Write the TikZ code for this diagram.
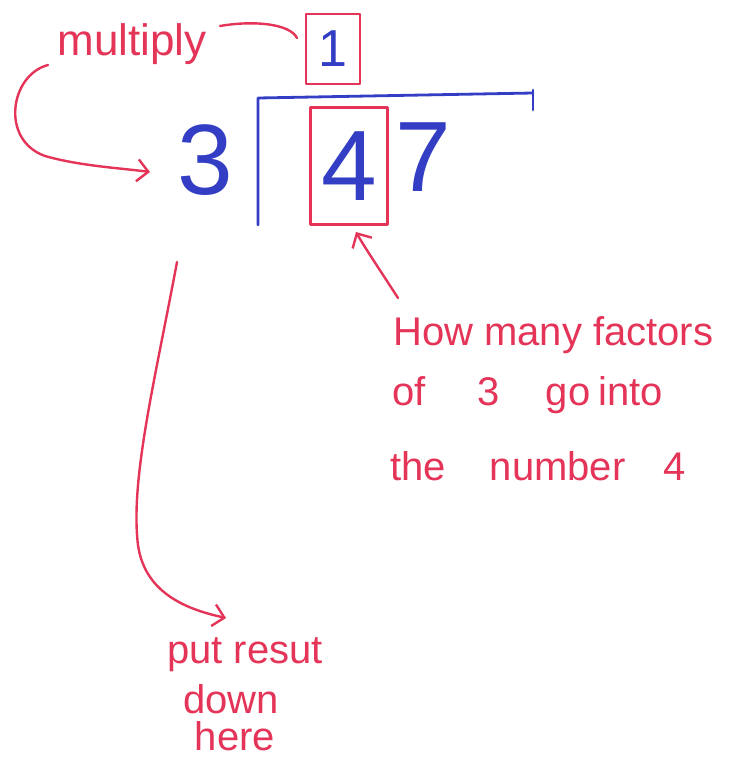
\documentclass[tikz,border=0pt]{standalone}
\usepackage{fontspec}
\setmainfont{Liberation Sans}
\usetikzlibrary{arrows.meta}
\definecolor{pen}{RGB}{228,52,88}
\definecolor{ink}{RGB}{52,62,196}
\begin{document}
\begin{tikzpicture}[x=1pt,y=-1pt, line cap=round, line join=round,
  redline/.style={draw=pen,line width=2.4pt},
  blueline/.style={draw=ink,line width=2.8pt},
  redtext/.style={text=pen,font=\fontsize{40}{46}\selectfont,inner sep=0pt},
  bigdigit/.style={text=ink,font=\fontsize{100}{100}\selectfont,inner sep=0pt},
  redbox/.style={draw=pen,line width=2.4pt},
  tip/.style={-{Straight Barb[length=11pt,width=22pt,line width=2.4pt]}}]
\useasboundingbox (0,0) rectangle (735,769);
\fill[white] (0,0) rectangle (735,769);

% nodes
\node[redtext,font=\fontsize{44}{44}\selectfont,anchor=base] (mult) at (132,55) {multiply};
\node[redbox,minimum width=54pt,minimum height=70pt,inner sep=0pt,
      text=ink,font=\fontsize{52}{52}\selectfont] (one) at (333,49) {1};
\node[bigdigit] (three) at (205,160) {3};
\node[redbox,bigdigit,minimum width=77pt,minimum height=117pt] (four) at (349,166) {4};
\node[bigdigit] (seven) at (423,157) {7};

\node[redtext,anchor=base west] (q1) at (393,345) {How many factors};
\node[redtext,anchor=base west] (q2) at (392,405) {of\hspace{52pt}3\hspace{46pt}go\hspace{8pt}into};
\node[redtext,anchor=base west] (q3) at (390,480) {the\hspace{44pt}number\hspace{38pt}4};

\node[redtext,anchor=base] (r1) at (245,663) {put resut};
\node[redtext,anchor=base] (r2) at (231,713) {down};
\node[redtext,anchor=base] (r3) at (235,750) {here};

% division bracket
\coordinate (bb) at (258,225);
\coordinate (bt) at (258,98);
\coordinate (br) at (533,93);
\coordinate (tk1) at (533,90);
\coordinate (tk2) at (533,110);
\draw[blueline] (bb) -- (bt) -- (br);
\draw[blueline] (tk1) -- (tk2);

% connectors
\coordinate (ms) at (220,26);
\coordinate (me) at (297,38);
\draw[redline] (ms) .. controls (255,20) and (290,24) .. (me);

\coordinate (cs) at (48,65);
\coordinate (ce) at (150,172);
\draw[redline,tip] (cs) .. controls (10,75) and (0,140) .. (45,156)
  .. controls (80,166) and (120,168) .. (ce);

\coordinate (qs) at (398,298);
\coordinate (qe) at (356,232);
\draw[redline,tip] (qs) .. controls (380,270) and (365,248) .. (qe);

\coordinate (ls) at (177,262);
\coordinate (le) at (226,618);
\draw[redline,tip] (ls) .. controls (155,380) and (130,480) .. (138,545)
  .. controls (145,595) and (190,610) .. (le);
\end{tikzpicture}
\end{document}
